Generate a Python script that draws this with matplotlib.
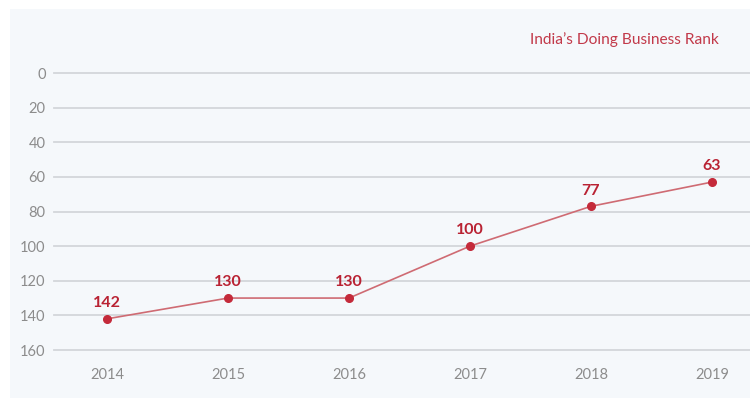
import matplotlib
matplotlib.use("Agg")
import matplotlib.pyplot as plt
from matplotlib.patches import Rectangle

years = [2014, 2015, 2016, 2017, 2018, 2019]
rank = [142, 130, 130, 100, 77, 63]
y_ticks = [0, 20, 40, 60, 80, 100, 120, 140, 160]
title = "India\u2019s Doing Business Rank"

plt.rcParams["font.family"] = ["Lato", "DejaVu Sans"]

W, H = 750, 398
fig = plt.figure(figsize=(W / 100, H / 100), dpi=100)
fig.patch.set_facecolor("white")

# light panel behind the chart
fig.patches.append(Rectangle((10 / W, 0), 1 - 10 / W, (H - 9) / H,
                             transform=fig.transFigure, facecolor="#f5f8fb",
                             edgecolor="none", zorder=-10))

ax = fig.add_axes([54 / W, (H - 350) / H, (W - 54) / W, (350 - 73) / H])
ax.set_facecolor("none")

ax.set_ylim(160, 0)
ax.set_yticks(y_ticks)
ax.set_xlim(2014 - 53 / 121, 2019 + 38 / 121)
ax.set_xticks(years)
ax.set_xticklabels([str(y) for y in years])

for v in y_ticks:
    ax.axhline(v, color="#d3d6da", linewidth=1.3, zorder=1, clip_on=False)

ax.plot(years, rank, color="#cf6b73", linewidth=1.2, zorder=3, clip_on=False)
ax.plot(years, rank, linestyle="none", marker="o", markersize=5.5,
        color="#c42a3a", zorder=4, clip_on=False)

for x, v in zip(years, rank):
    ax.annotate(str(v), (x, v), xytext=(0, 8.5), textcoords="offset points",
                ha="center", va="baseline", fontsize=11.5, fontweight="bold",
                color="#b92233")

for s in ax.spines.values():
    s.set_visible(False)
ax.tick_params(axis="both", length=0, labelsize=10.5, labelcolor="#8c8c8c")
ax.tick_params(axis="y", pad=6)
ax.tick_params(axis="x", pad=13)

fig.text(719 / W, 1 - 40 / H, title, ha="right", va="center",
         fontsize=11.2, color="#c23a4a")

fig.savefig("out.png", dpi=100)
